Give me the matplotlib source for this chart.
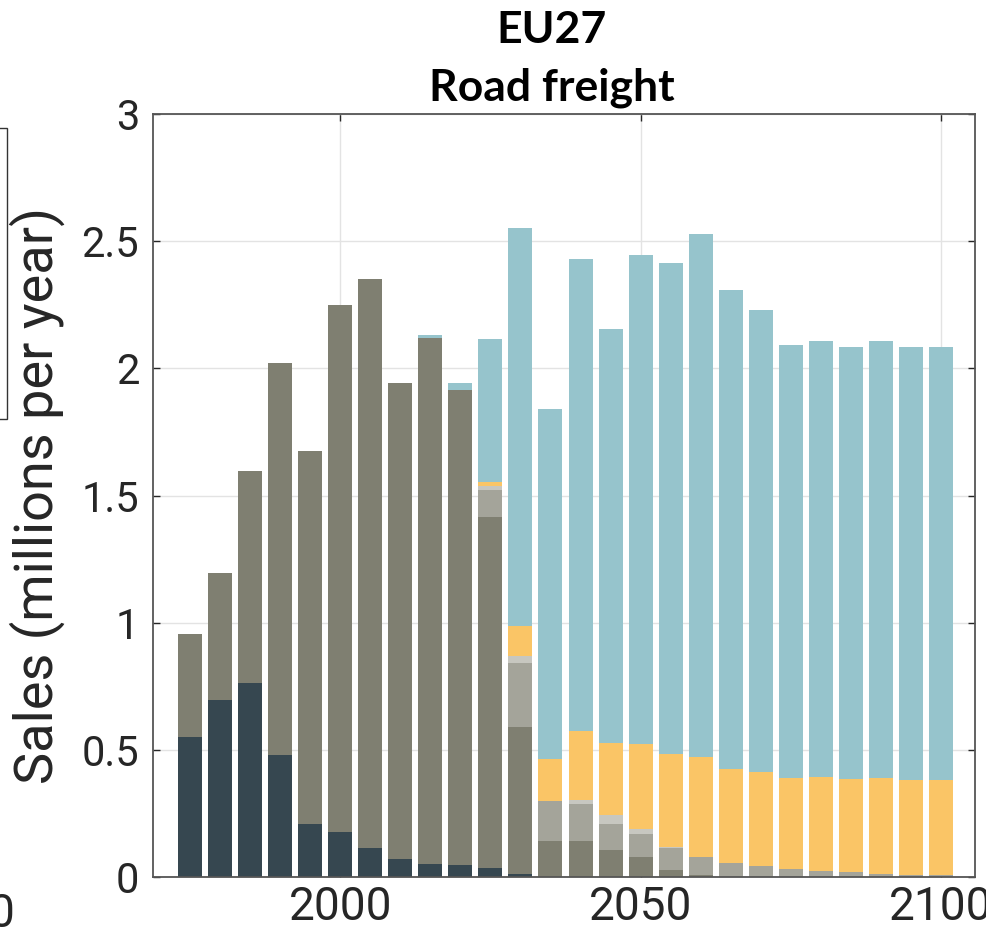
import matplotlib
matplotlib.use("Agg")
import matplotlib.pyplot as plt
from matplotlib.patches import Rectangle
import numpy as np

# ---- data (millions of sales per year, layer thickness) ----
years = [1975, 1980, 1985, 1990, 1995, 2000, 2005, 2010, 2015, 2020, 2025, 2030, 2035,
         2040, 2045, 2050, 2055, 2060, 2065, 2070, 2075, 2080, 2085, 2090, 2095, 2100]

dark = [0.55, 0.695, 0.762, 0.478, 0.21, 0.176, 0.114, 0.071, 0.051, 0.047, 0.034, 0.012, 0,
        0, 0, 0, 0, 0, 0, 0, 0, 0, 0, 0, 0, 0]
grey = [0.407, 0.501, 0.834, 1.542, 1.464, 2.072, 2.239, 1.870, 2.068, 1.868, 1.381, 0.578, 0.142,
        0.142, 0.106, 0.080, 0.029, 0.006, 0, 0, 0, 0, 0, 0, 0, 0]
light_grey = [0, 0, 0, 0, 0, 0, 0, 0, 0, 0, 0.108, 0.253, 0.156,
              0.144, 0.101, 0.089, 0.084, 0.071, 0.055, 0.042, 0.030, 0.025, 0.018, 0.012, 0.008, 0.006]
pale_grey = [0, 0, 0, 0, 0, 0, 0, 0, 0, 0, 0.013, 0.025, 0,
             0.017, 0.037, 0.018, 0.004, 0, 0, 0, 0, 0, 0, 0, 0, 0]
orange = [0, 0, 0, 0, 0, 0, 0, 0, 0, 0, 0.016, 0.117, 0.167,
          0.272, 0.282, 0.336, 0.367, 0.394, 0.368, 0.370, 0.359, 0.367, 0.367, 0.377, 0.375, 0.375]
teal = [0, 0, 0, 0, 0, 0, 0, 0, 0.012, 0.027, 0.563, 1.567, 1.375,
        1.855, 1.629, 1.923, 1.930, 2.057, 1.885, 1.817, 1.703, 1.715, 1.699, 1.718, 1.701, 1.703]

layers = [dark, grey, light_grey, pale_grey, orange, teal]
colors = ["#364750", "#7F7F71", "#A4A49A", "#C7C7C0", "#FAC566", "#96C4CC"]

yticks = [0, 0.5, 1, 1.5, 2, 2.5, 3]
ytick_labels = ["0", "0.5", "1", "1.5", "2", "2.5", "3"]
xticks = [2000, 2050, 2100]
xtick_labels = ["2000", "2050", "2100"]

W, H = 986, 931
fig = plt.figure(figsize=(W / 100, H / 100), dpi=100)
ax = fig.add_axes([153 / W, 1 - 877 / H, (975 - 153) / W, (877 - 114) / H])

bottom = np.zeros(len(years))
for vals, c in zip(layers, colors):
    v = np.array(vals, dtype=float)
    ax.bar(years, v, width=4, bottom=bottom, color=c, edgecolor="none", zorder=2)
    bottom += v

ax.set_xlim(1968.8, 2105.7)
ax.set_ylim(0, 3)
ax.set_yticks(yticks)
ax.set_yticklabels(ytick_labels, fontsize=30, family="Roboto", color="#262626")
ax.set_xticks(xticks)
ax.set_xticklabels(xtick_labels, fontsize=33, family="Roboto", color="#262626")
ax.grid(True, color="#e3e3e3", linewidth=1.0, zorder=0)
ax.set_axisbelow(True)
ax.tick_params(direction="in", length=5, width=1, color="#262626",
               top=True, right=True)
ax.tick_params(axis="y", pad=10)
ax.tick_params(axis="x", pad=6)
for s in ax.spines.values():
    s.set_color("#555555")
    s.set_linewidth(1.3)

ax.set_ylabel("Sales (millions per year)", fontsize=39, family="Roboto", color="#262626")
ax.yaxis.set_label_coords(-(153 - 53) / (975 - 153), 0.5)
ax.yaxis.label.set_va("baseline")

# title (two lines)
fig.text(552 / W, 1 - 42.7 / H, "EU27", ha="center", va="baseline",
         fontsize=32, fontweight="bold", family="Lato", color="black")
fig.text(552 / W, 1 - 100 / H, "Road freight", ha="center", va="baseline",
         fontsize=32, fontweight="bold", family="Lato", color="black")

# fragments of neighbouring panel visible at left edge
fig.patches.append(Rectangle((-60 / W, 1 - 419 / H), 67 / W, (419 - 128) / H,
                             transform=fig.transFigure, fill=False,
                             edgecolor="#333333", linewidth=1.0))
fig.text(14 / W, 1 - 927 / H, "0", ha="right", va="baseline",
         fontsize=33, family="Roboto", color="#262626")

fig.savefig("out.png", dpi=100)
